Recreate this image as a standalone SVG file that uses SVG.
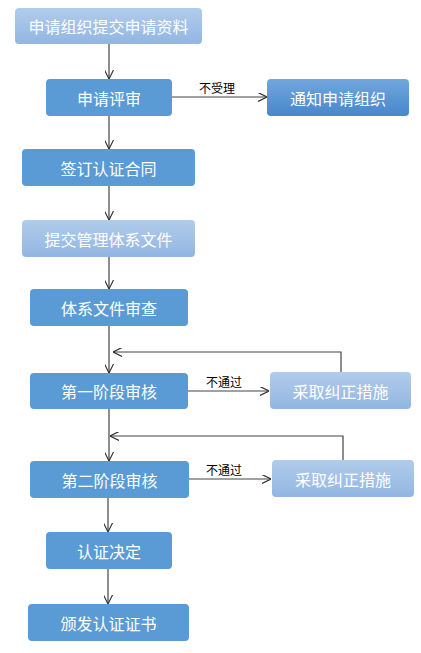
<svg xmlns="http://www.w3.org/2000/svg" width="421" height="653" viewBox="0 0 421 653">
<defs>
<linearGradient id="gLight" x1="0" y1="0" x2="0" y2="1">
<stop offset="0" stop-color="#b1cceb"/>
<stop offset="1" stop-color="#92b6e2"/>
</linearGradient>
<linearGradient id="gDark" x1="0" y1="0" x2="0" y2="1">
<stop offset="0" stop-color="#70a7de"/>
<stop offset="1" stop-color="#4887cb"/>
</linearGradient>
<marker id="arr" viewBox="0 0 10 10" refX="10" refY="5" markerWidth="9" markerHeight="9" markerUnits="userSpaceOnUse" orient="auto">
<path d="M0,0 L10,5 L0,10" fill="none" stroke="#333" stroke-width="1.3"/>
</marker>
</defs>
<style>
.solid{fill:#5b9bd5}
.light{fill:url(#gLight)}
.dark{fill:url(#gDark)}
.t{font-family:"Microsoft YaHei","Noto Sans CJK SC",sans-serif;font-size:16px;fill:#fff;text-anchor:middle;dominant-baseline:central}
.lbl{font-family:"Noto Sans CJK SC",sans-serif;font-size:12px;fill:#000;text-anchor:middle;dominant-baseline:central}
.c{fill:none;stroke:#444;stroke-width:1.2}
</style>
<rect width="421" height="653" fill="#fff"/>
<g id="connectors">
<path class="c" d="M109,44 V79" marker-end="url(#arr)"/>
<path class="c" d="M172,97 H267" marker-end="url(#arr)"/>
<text class="lbl" x="217" y="87">不受理</text>
<path class="c" d="M109,116 V149" marker-end="url(#arr)"/>
<path class="c" d="M109,186 V220" marker-end="url(#arr)"/>
<path class="c" d="M109,257 V289" marker-end="url(#arr)"/>
<path class="c" d="M109,326 V373" marker-end="url(#arr)"/>
<path class="c" d="M341,372 V352 H113" marker-end="url(#arr)"/>
<path class="c" d="M188,391 H269" marker-end="url(#arr)"/>
<text class="lbl" x="224" y="381">不通过</text>
<path class="c" d="M109,409 V461" marker-end="url(#arr)"/>
<path class="c" d="M343,460 V436 H110" marker-end="url(#arr)"/>
<path class="c" d="M189,479 H271" marker-end="url(#arr)"/>
<text class="lbl" x="224" y="469">不通过</text>
<path class="c" d="M108,498 V532" marker-end="url(#arr)"/>
<path class="c" d="M108,569 V604" marker-end="url(#arr)"/>
</g>
<g id="n1"><rect class="light" x="15" y="8" width="187" height="36" rx="4"/><text class="t" x="108.5" y="26">申请组织提交申请资料</text></g>
<g id="n2"><rect class="solid" x="46" y="79" width="126" height="37" rx="4"/><text class="t" x="109" y="97.5">申请评审</text></g>
<g id="n3"><rect class="dark" x="267" y="79" width="142" height="37" rx="4"/><text class="t" x="338" y="97.5">通知申请组织</text></g>
<g id="n4"><rect class="solid" x="22" y="149" width="173" height="37" rx="4"/><text class="t" x="108.5" y="167.5">签订认证合同</text></g>
<g id="n5"><rect class="light" x="22" y="220" width="173" height="37" rx="4"/><text class="t" x="108.5" y="238.5">提交管理体系文件</text></g>
<g id="n6"><rect class="solid" x="30" y="289" width="158" height="37" rx="4"/><text class="t" x="109" y="307.5">体系文件审查</text></g>
<g id="n7"><rect class="solid" x="30" y="373" width="158" height="36" rx="4"/><text class="t" x="109" y="391">第一阶段审核</text></g>
<g id="n7b"><rect class="light" x="270" y="372" width="141" height="37" rx="4"/><text class="t" x="340.5" y="390.5">采取纠正措施</text></g>
<g id="n8"><rect class="solid" x="30" y="461" width="159" height="37" rx="4"/><text class="t" x="109.5" y="479.5">第二阶段审核</text></g>
<g id="n8b"><rect class="light" x="272" y="460" width="142" height="37" rx="4"/><text class="t" x="343" y="478.5">采取纠正措施</text></g>
<g id="n9"><rect class="solid" x="46" y="532" width="126" height="37" rx="4"/><text class="t" x="109" y="550.5">认证决定</text></g>
<g id="n10"><rect class="solid" x="28" y="604" width="161" height="37" rx="4"/><text class="t" x="108.5" y="622.5">颁发认证证书</text></g>
</svg>
